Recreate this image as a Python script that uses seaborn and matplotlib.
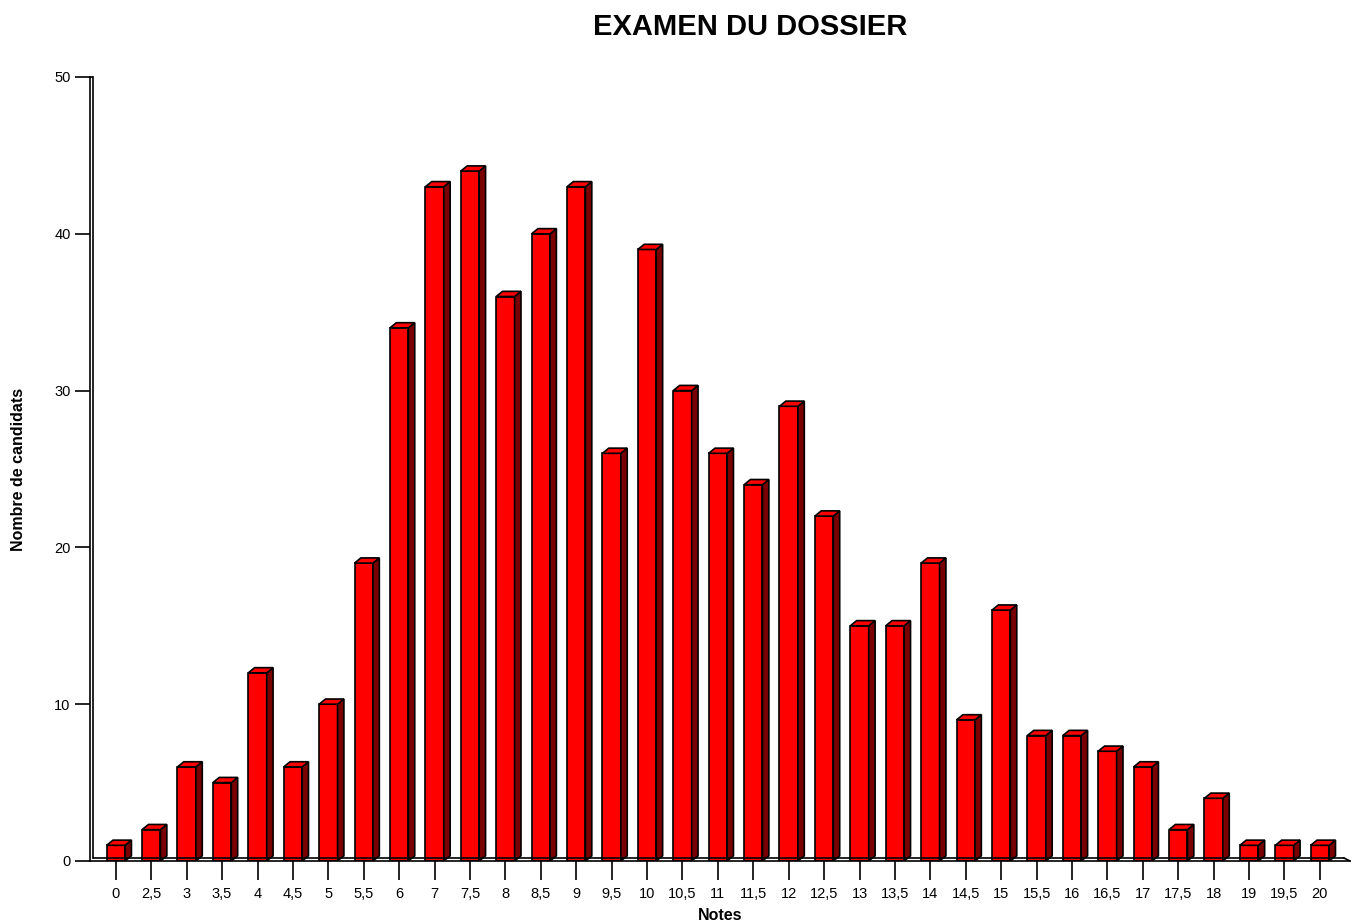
import matplotlib
matplotlib.use('Agg')
import matplotlib.pyplot as plt
import pandas as pd
import seaborn as sns
from matplotlib.patches import Polygon

notes = ['0', '2,5', '3', '3,5', '4', '4,5', '5', '5,5', '6', '7', '7,5', '8', '8,5',
         '9', '9,5', '10', '10,5', '11', '11,5', '12', '12,5', '13', '13,5', '14',
         '14,5', '15', '15,5', '16', '16,5', '17', '17,5', '18', '19', '19,5', '20']
candidats = [1, 2, 6, 5, 12, 6, 10, 19, 34, 43, 44, 36, 40, 43, 26, 39, 30, 26, 24,
             29, 22, 15, 15, 19, 9, 16, 8, 8, 7, 6, 2, 4, 1, 1, 1]

df = pd.DataFrame({'note': notes, 'n': candidats})

sns.set_style('white')
plt.rcParams['font.family'] = ['Liberation Sans', 'DejaVu Sans']
plt.rcParams['text.color'] = 'black'
plt.rcParams['axes.labelcolor'] = 'black'
plt.rcParams['xtick.color'] = 'black'
plt.rcParams['ytick.color'] = 'black'

fig = plt.figure(figsize=(13.57, 9.24), dpi=100)
ax = fig.add_axes([90 / 1357, 1 - 861 / 924, 1260 / 1357, 784 / 924])

sns.barplot(data=df, x='note', y='n', order=notes, color='#ff0000', saturation=1,
            width=0.52, edgecolor='black', linewidth=1.2, ax=ax, zorder=2)

# fake 3d depth for each bar
dx, dy = 0.18, 0.33
for p in list(ax.patches):
    x0 = p.get_x()
    w = p.get_width()
    h = p.get_height()
    x1 = x0 + w
    side = Polygon([(x1, 0), (x1 + dx, dy), (x1 + dx, h + dy), (x1, h)], closed=True,
                   facecolor='#7a0000', edgecolor='black', linewidth=1.2, zorder=2)
    top = Polygon([(x0, h), (x0 + dx, h + dy), (x1 + dx, h + dy), (x1, h)], closed=True,
                  facecolor='#ff0000', edgecolor='black', linewidth=1.2, zorder=2)
    ax.add_patch(side)
    ax.add_patch(top)

ax.set_xlim(-0.73, 34.85)
ax.set_ylim(0, 50)
ax.set_yticks([0, 10, 20, 30, 40, 50])

for s in ['top', 'right']:
    ax.spines[s].set_visible(False)
ax.spines['left'].set_linewidth(1.2)
ax.spines['bottom'].set_linewidth(1.2)
ax.spines['left'].set_color('black')
ax.spines['bottom'].set_color('black')

# wall and floor lines
ax.plot([0.0025, 0.0025], [0.004, 1.0], transform=ax.transAxes, color='black',
        lw=1.2, clip_on=False, zorder=3)
ax.plot([0.0025, 0.995], [0.004, 0.004], transform=ax.transAxes, color='black',
        lw=1.2, clip_on=False, zorder=3)
ax.plot([0.995, 1.0], [0.004, 0.0], transform=ax.transAxes, color='black',
        lw=1.2, clip_on=False, zorder=3)
ax.plot([0.0, 0.0025], [1.0, 1.0], transform=ax.transAxes, color='black',
        lw=1.2, clip_on=False, zorder=3)

ax.tick_params(axis='y', direction='out', length=11, width=1.2, labelsize=10.5,
               left=True, pad=3)
ax.tick_params(axis='x', direction='inout', length=28, width=1.2, labelsize=10.5,
               bottom=True, pad=12.5)
for lab in ax.get_xticklabels():
    lab.set_verticalalignment('baseline')

ax.set_xlabel('Notes', fontsize=11.5, fontweight='bold', va='center')
ax.xaxis.set_label_coords(0.5, -54 / 784)
ax.set_ylabel('Nombre de candidats', fontsize=11.5, fontweight='bold', labelpad=20)

fig.text(750 / 1357, 1 - 27 / 924, 'EXAMEN DU DOSSIER', ha='center', va='center',
         fontsize=21, fontweight='bold')

fig.savefig('out.png', dpi=100)
